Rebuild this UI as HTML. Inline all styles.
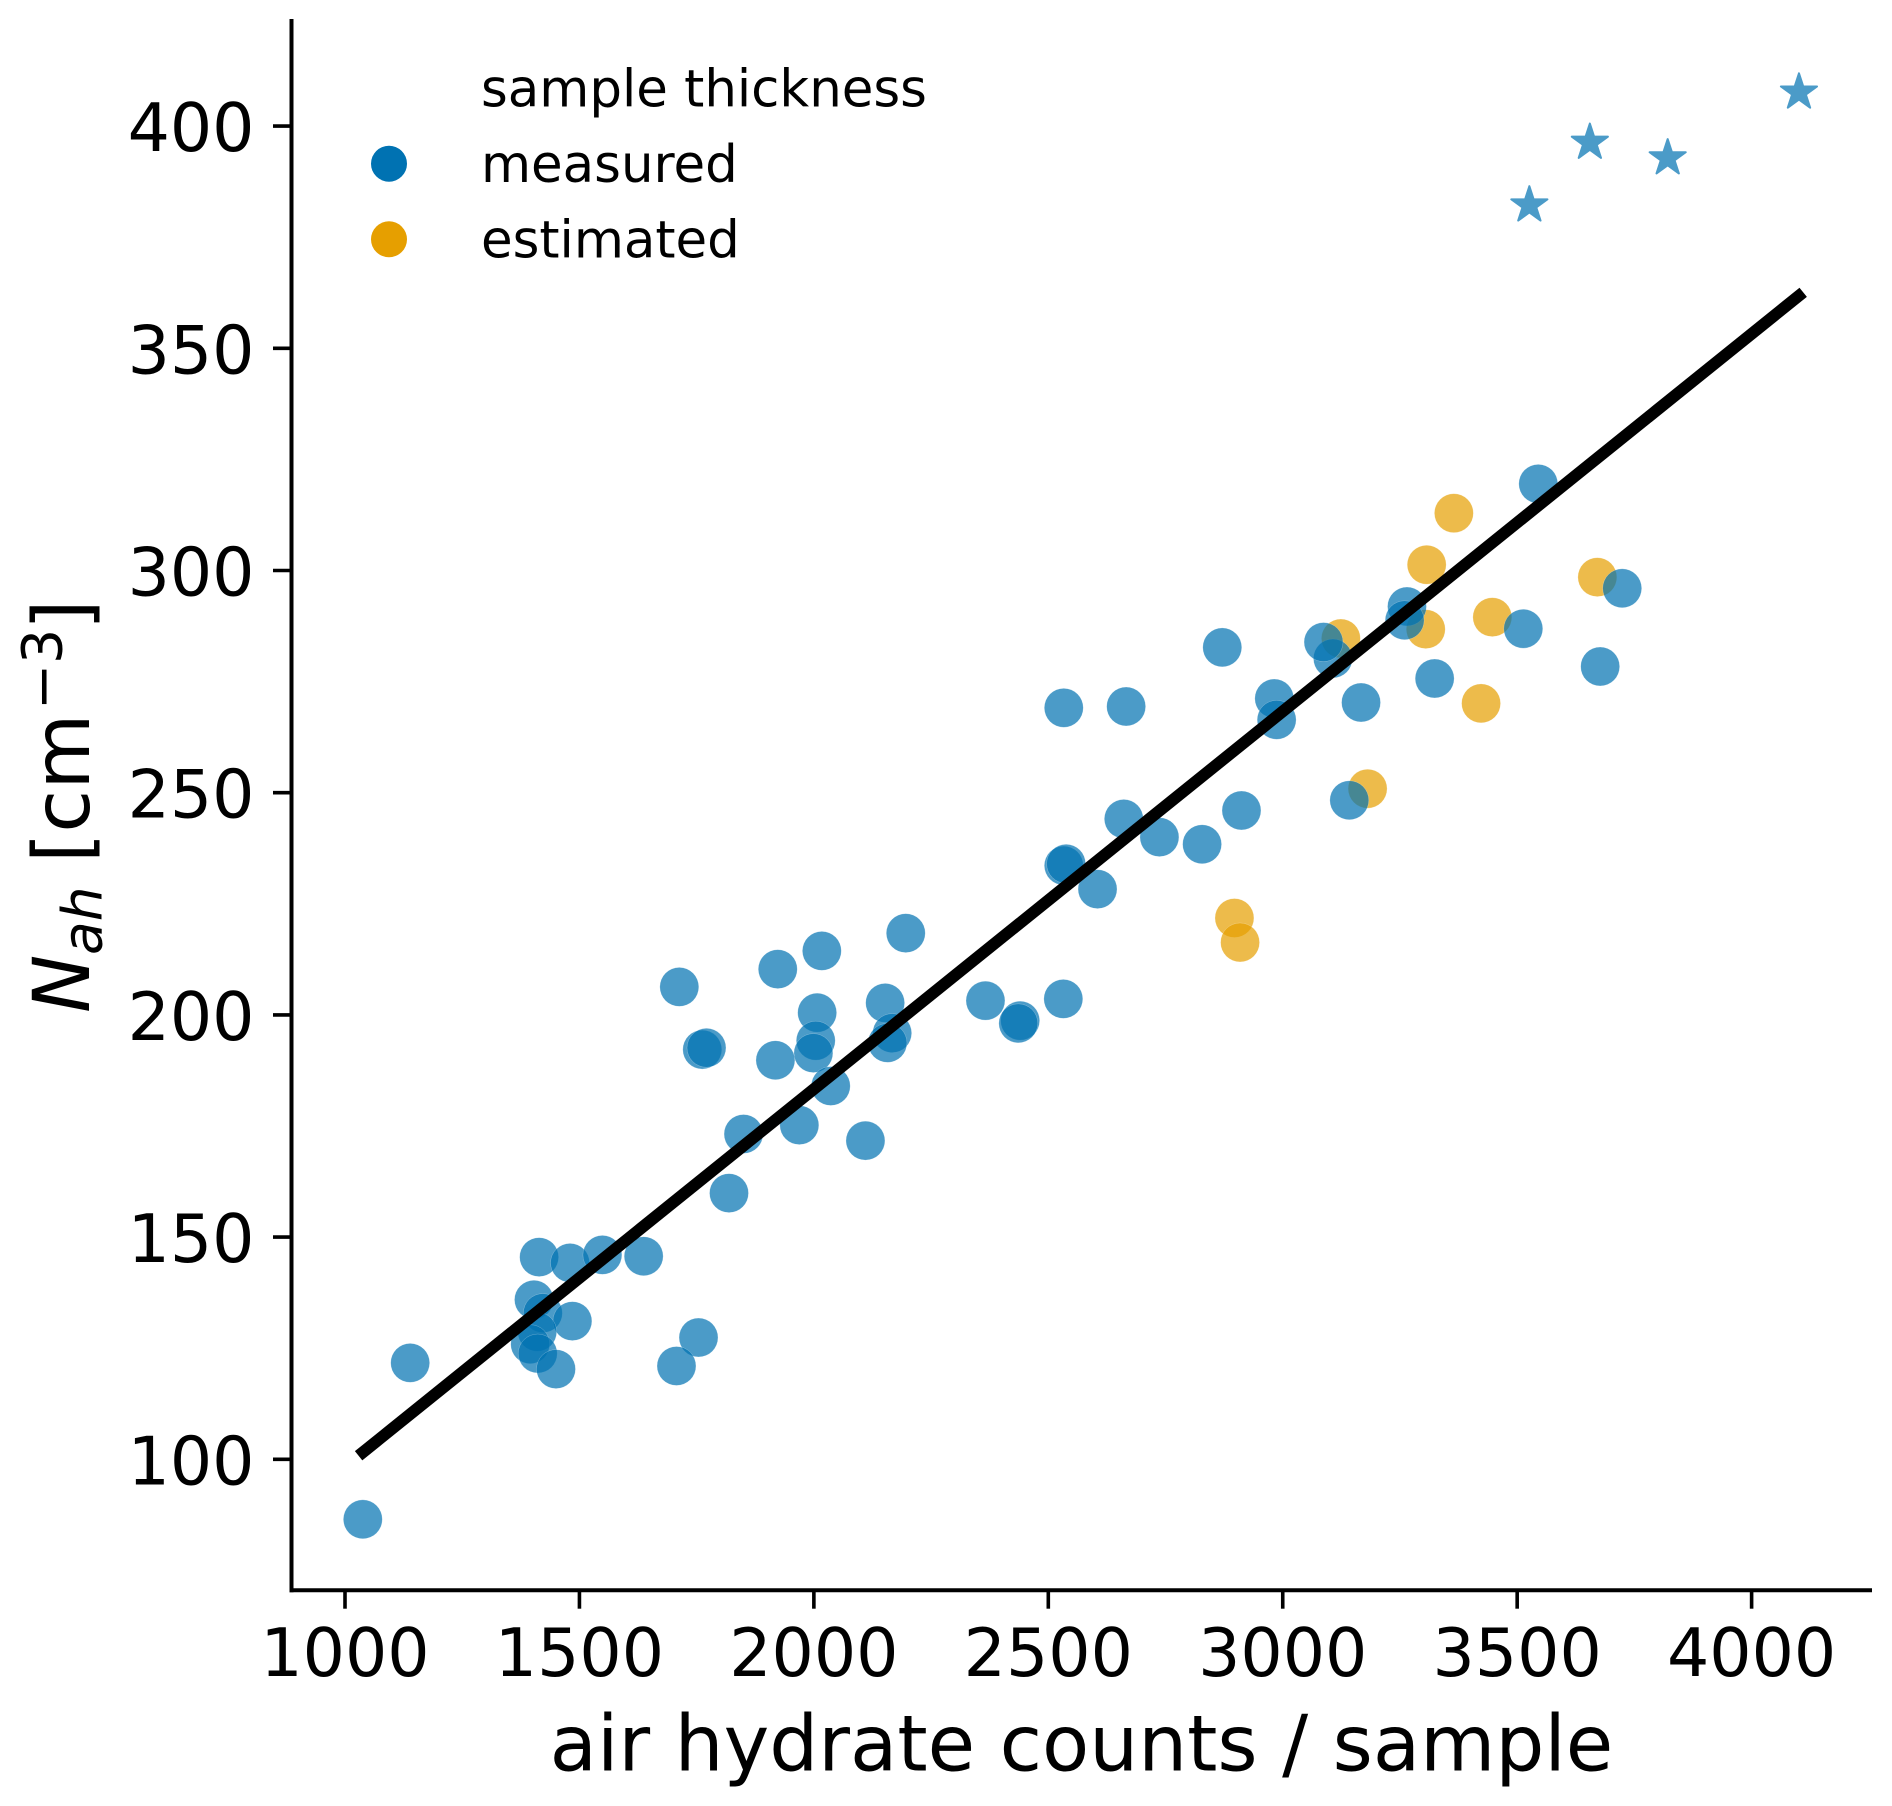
<!DOCTYPE html>
<html lang="en">
<head>
<meta charset="utf-8">
<title>Air hydrate number density vs. counts per sample</title>
<style>
  html, body { margin: 0; padding: 0; background: #fff; }
  svg { display: block; }
  text { font-family: "DejaVu Sans", "Liberation Sans", sans-serif; fill: #000; }
</style>
</head>
<body>
<svg id="chart" xmlns="http://www.w3.org/2000/svg" width="1892" height="1806" viewBox="0 0 1892 1806">
  <rect width="1892" height="1806" fill="#fff"/>
  <g id="orange-points"></g>
  <g id="blue-points"></g>
  <g id="star-points"></g>
  <g id="fit"></g>
  <g id="axes"></g>

  <text x="1081.5" y="1770.5" font-size="77.2" text-anchor="middle">air hydrate counts / sample</text>

  <g>
    <text transform="translate(89,1013) rotate(-90)" font-size="78" font-style="italic">N</text>
    <text transform="translate(101.5,955) rotate(-90)" font-size="55" font-style="italic">ah</text>
    <text transform="translate(89,863) rotate(-90)" font-size="78">[cm</text>
    <text transform="translate(61.5,710) rotate(-90)" font-size="55">−3</text>
    <text transform="translate(89,630) rotate(-90)" font-size="78">]</text>
  </g>

  <g>
    <text x="481" y="106.5" font-size="51.4">sample thickness</text>
    <circle cx="389" cy="163.7" r="18" fill="#0072B2"/>
    <text x="481" y="182" font-size="51.4">measured</text>
    <circle cx="389" cy="239.3" r="18" fill="#E69F00"/>
    <text x="481" y="257.5" font-size="51.4">estimated</text>
  </g>
</svg>

<script>
const xTicks = [1000, 1500, 2000, 2500, 3000, 3500, 4000];
const yTicks = [100, 150, 200, 250, 300, 350, 400];

const measuredX = [1038,1139,1414,1480,1549,1637,1819,1403,1422,1485,1410,1395,1411,1450,1754,1707,
  1713,1923,2017,2196,1762,1771,2007,2004,1999,1918,2152,2167,2157,2366,2440,2436,2532,2036,1850,1969,2110,
  2533,2666,2871,2982,2987,3107,3087,3167,3324,3142,2912,2828,2737,2661,2533,2538,2605,
  3545,3724,3265,3260,3513,3677];
const measuredY = [86.5,121.7,145.5,144.2,146.0,145.7,159.9,135.9,132.9,131.1,128.7,125.9,123.8,120.3,127.4,121.0,
  206.3,210.3,214.4,218.4,192.2,192.6,200.5,194.2,191.4,189.8,202.7,195.9,193.7,203.2,198.7,198.1,203.6,184.0,173.2,175.2,171.7,
  269.1,269.4,282.7,271.2,266.4,280.2,283.9,270.3,275.7,248.3,246.0,238.4,240.0,244.1,233.6,234.0,228.3,
  319.5,296.0,291.9,288.8,286.9,278.4];

const estimatedX = [3365,3307,3671,3305,3447,3124,3423,3181,2897,2909];
const estimatedY = [312.9,301.3,298.5,286.8,289.5,284.7,270.1,250.9,221.8,216.3];

const starX = [3526,3655,3821,4101];
const starY = [382.2,396.3,392.8,407.6];

const fitX = [1029,4110];
const fitY = [100.8,362.6];

const NS = 'http://www.w3.org/2000/svg';
function sx(v) { return 345 + (v - 1000) * 0.46887; }
function sy(v) { return 1459.3 - (v - 100) * 4.444; }

function make(tag, attrs, parent) {
  const el = document.createElementNS(NS, tag);
  for (const k in attrs) el.setAttribute(k, attrs[k]);
  parent.appendChild(el);
  return el;
}

function drawCircles(xs, ys, color, parentId, name) {
  const parent = document.getElementById(parentId);
  xs.forEach((x, i) => {
    const c = make('circle', {cx: sx(x), cy: sy(ys[i]), r: 19.5, fill: color, stroke: '#fff', 'stroke-width': 0.5, 'stroke-opacity': 0.5, opacity: 0.7}, parent);
    
    
  });
}
drawCircles(estimatedX, estimatedY, '#E69F00', 'orange-points', 'estimated-point');
drawCircles(measuredX, measuredY, '#0072B2', 'blue-points', 'measured-point');

const starGroup = document.getElementById('star-points');
starX.forEach((x, i) => {
  const cx = sx(x), cy = sy(starY[i]);
  const R = 19, r = R * 0.381966;
  let pts = [];
  for (let k = 0; k < 10; k++) {
    const a = -Math.PI / 2 + k * Math.PI / 5;
    const rad = k % 2 ? r : R;
    pts.push((cx + rad * Math.cos(a)).toFixed(2) + ',' + (cy + rad * Math.sin(a)).toFixed(2));
  }
  const s = make('polygon', {points: pts.join(' '), fill: '#0072B2', stroke: '#0072B2', 'stroke-width': 2, 'stroke-linejoin': 'round', opacity: 0.7}, starGroup);
  
  
});

const fitLine = make('line', {x1: sx(fitX[0]), y1: sy(fitY[0]), x2: sx(fitX[1]), y2: sy(fitY[1]), stroke: '#000', 'stroke-width': 11.8}, document.getElementById('fit'));



const axes = document.getElementById('axes');
const leftSpine = make('line', {x1: 291.5, y1: 19, x2: 291.5, y2: 1592.3, stroke: '#000', 'stroke-width': 4}, axes);


const bottomSpine = make('line', {x1: 289.5, y1: 1590.3, x2: 1872, y2: 1590.3, stroke: '#000', 'stroke-width': 4}, axes);



xTicks.forEach(v => {
  const t = make('line', {x1: sx(v), y1: 1590.3, x2: sx(v), y2: 1608.7, stroke: '#000', 'stroke-width': 3.6}, axes);
  
  
  const l = make('text', {x: sx(v), y: 1676, 'font-size': 66.5, 'text-anchor': 'middle'}, axes);
  l.textContent = v;
  
  
});
yTicks.forEach(v => {
  const t = make('line', {x1: 273, y1: sy(v), x2: 291.5, y2: sy(v), stroke: '#000', 'stroke-width': 3.6}, axes);
  
  
  const l = make('text', {x: 254.5, y: sy(v) + 25, 'font-size': 66.5, 'text-anchor': 'end'}, axes);
  l.textContent = v;
  
  
});
</script>
</body>
</html>
